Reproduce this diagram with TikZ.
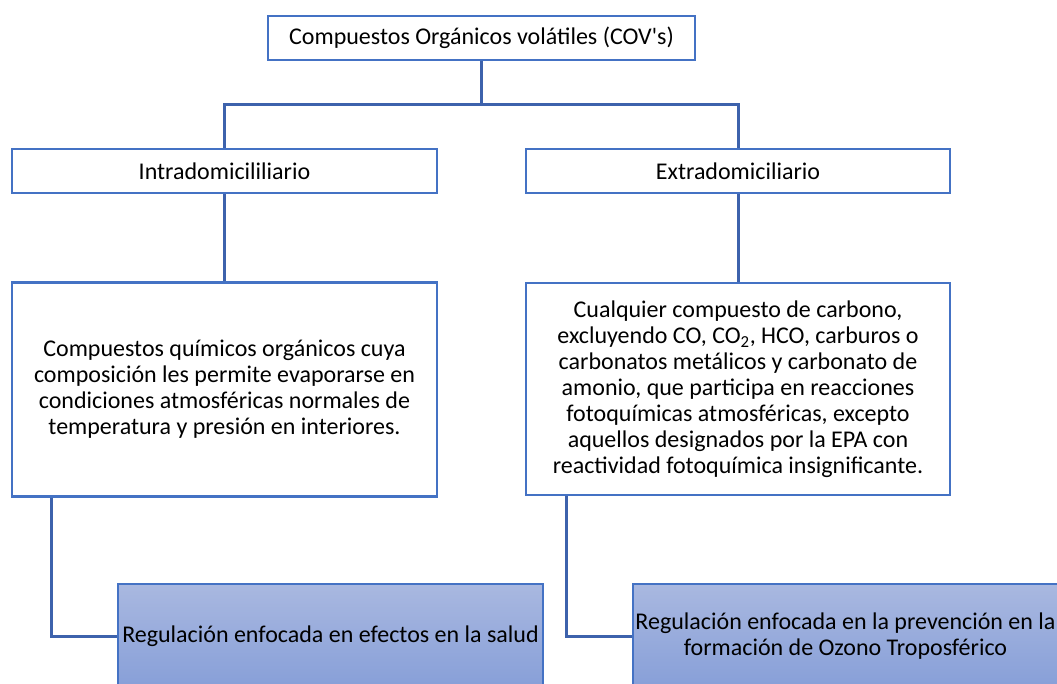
\documentclass[tikz,border=0pt]{standalone}
\usepackage{fontspec}
\setmainfont{Carlito}
\newfontfamily\plaincar{Carlito}
\definecolor{boxline}{HTML}{4472C4}
\definecolor{conline}{HTML}{3D62AC}
\definecolor{bluetop}{HTML}{A9B8E0}
\definecolor{bluebot}{HTML}{879FD8}
\begin{document}
\begin{tikzpicture}[x=1pt,y=-1pt,
  every node/.style={font=\fontsize{24}{26}\selectfont, align=center, inner sep=0pt},
  wbox/.style={draw=boxline, line width=2.4pt, fill=white, rectangle},
  bbox/.style={draw=boxline, line width=1.2pt, rectangle, top color=bluetop, bottom color=bluebot},
  conn/.style={draw=conline, line width=3pt}]
\useasboundingbox (0,0) rectangle (1057,683);
\begin{scope}
\clip (0,0) rectangle (1057,683);
\coordinate (hy) at (0,104);
\node[wbox, minimum width=427, minimum height=44] (top) at (481.5,38) {Compuestos Orgánicos volátiles (COV{\plaincar'}s)};
\node[wbox, minimum width=425, minimum height=44] (intra) at (224.5,171) {Intradomicililiario};
\node[wbox, minimum width=424, minimum height=44] (extra) at (738,171) {Extradomiciliario};
\node[wbox, minimum width=425, minimum height=214] (itext) at (224.5,389.5) {Compuestos químicos orgánicos cuya\\composición les permite evaporarse en\\condiciones atmosféricas normales de\\temperatura y presión en interiores.};
\node[wbox, minimum width=424, minimum height=212] (etext) at (738,389) {Cualquier compuesto de carbono,\\excluyendo CO, CO\textsubscript{2}, HCO, carburos o\\carbonatos metálicos y carbonato de\\amonio, que participa en reacciones\\fotoquímicas atmosféricas, excepto\\aquellos designados por la EPA con\\reactividad fotoquímica insignificante.};
\node[bbox, minimum width=425, minimum height=104] (blue1) at (330.5,636) {Regulación enfocada en efectos en la salud};
\node[bbox, minimum width=425, minimum height=104] (blue2) at (845.5,636) {Regulación enfocada en la prevención en la\\formación de Ozono Troposférico};
\draw[conn] (top.south) -- (top.south |- hy);
\draw[conn] (intra.north) -- (intra.north |- hy) -- (extra.north |- hy) -- (extra.north);
\draw[conn] (intra.south) -- (itext.north);
\draw[conn] (extra.south) -- (etext.north);
\draw[conn] (itext.south west) ++(41,0) |- (blue1.west);
\draw[conn] (etext.south west) ++(42,0) |- (blue2.west);
\end{scope}
\end{tikzpicture}
\end{document}
